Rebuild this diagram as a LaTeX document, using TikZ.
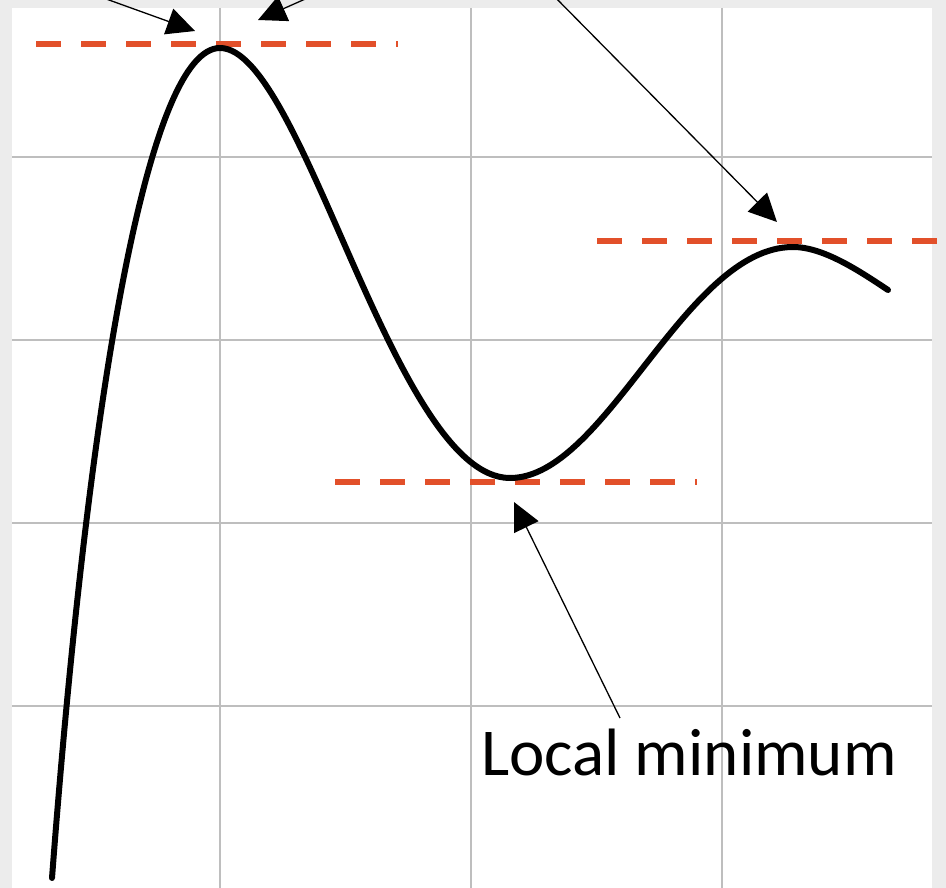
\documentclass[tikz,border=0pt]{standalone}
\usepackage{fontspec}
\setmainfont{Carlito}
\usetikzlibrary{arrows.meta}
\definecolor{bggray}{RGB}{236,236,236}
\definecolor{gridgray}{RGB}{190,190,190}
\definecolor{levelred}{RGB}{226,80,42}
\begin{document}
\begin{tikzpicture}[x=1pt,y=-1pt,
  gridline/.style={draw=gridgray, line width=1.2pt},
  curveline/.style={draw=black, line width=6pt, line cap=round, line join=round},
  levelline/.style={draw=levelred, line width=5.5pt, dash pattern=on 25pt off 20pt},
  pointer/.style={draw=black, line width=1.3pt, -{Triangle[length=28pt,width=27pt]}},
  lbl/.style={font=\fontsize{67}{80}\selectfont, inner sep=0pt, anchor=base west}]
\useasboundingbox (0,0) rectangle (946,888);
\clip (0,0) rectangle (946,888);
\fill[bggray] (0,0) rectangle (946,888);
\fill[white] (12,8) rectangle (932,888);
% grid
\foreach \gx in {220,471,722} {\draw[gridline] (\gx,8) -- (\gx,888);}
\foreach \gy in {157,340,523,706} {\draw[gridline] (12,\gy) -- (932,\gy);}
% level lines
\draw[levelline] (36,44) -- (398,44);
\draw[levelline] (597,241) -- (960,241);
\draw[levelline] (335,482) -- (697,482);
% curve
\draw[curveline] (52,878) .. controls (90,378) and (150,48) .. (220,48)
  .. controls (303,48) and (394,478) .. (510,478)
  .. controls (606,478) and (685,247) .. (793,247)
  .. controls (823,247) and (858,270) .. (888,290);
% label
\node[lbl] (lmin) at (481,775) {Local minimum};
% connectors
\coordinate (s1) at (84,-9);
\coordinate (t1) at (195,31);
\coordinate (s2) at (348,-20);
\coordinate (t2) at (258,20);
\coordinate (s3) at (548,-10);
\coordinate (t3) at (777,222);
\coordinate (s4) at (620,718);
\coordinate (t4) at (514,502);
\draw[pointer] (s1) -- (t1);
\draw[pointer] (s2) -- (t2);
\draw[pointer] (s3) -- (t3);
\draw[pointer] (s4) -- (t4);
\end{tikzpicture}
\end{document}
